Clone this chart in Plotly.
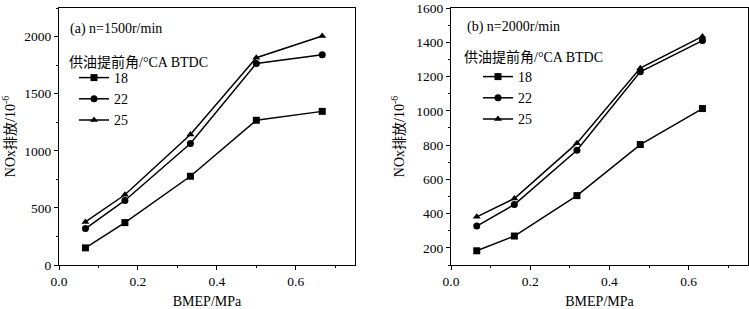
import plotly.graph_objects as go

# Panel (a) n=1500 r/min
xa = [0.067, 0.167, 0.333, 0.500, 0.667]
a18 = [150, 371, 777, 1267, 1345]
a22 = [319, 565, 1063, 1765, 1840]
a25 = [377, 615, 1142, 1815, 2005]

# Panel (b) n=2000 r/min
xb = [0.065, 0.160, 0.318, 0.478, 0.635]
b18 = [183, 269, 505, 803, 1013]
b22 = [327, 453, 770, 1228, 1410]
b25 = [381, 488, 811, 1249, 1434]

series_names = ["18", "22", "25"]
symbols = ["square", "circle", "triangle-up"]
legend_title = "供油提前角/°CA BTDC"

FONT = "Liberation Serif, Times New Roman, Noto Sans CJK SC, serif"
FS = 14
TFS = 13.5

fig = go.Figure()
for name, sym, ya in zip(series_names, symbols, [a18, a22, a25]):
    fig.add_trace(go.Scatter(x=xa, y=ya, name=name, mode="lines+markers",
                             line=dict(color="black", width=1.5),
                             marker=dict(symbol=sym, size=7, color="black"),
                             xaxis="x", yaxis="y", legend="legend"))
for name, sym, yb in zip(series_names, symbols, [b18, b22, b25]):
    fig.add_trace(go.Scatter(x=xb, y=yb, name=name, mode="lines+markers",
                             line=dict(color="black", width=1.5),
                             marker=dict(symbol=sym, size=7, color="black"),
                             xaxis="x2", yaxis="y2", legend="legend2"))

W, H = 749, 309
def px_x(p): return p / W
def px_y(p): return (H - p) / H

axis_common = dict(showline=True, linecolor="black", linewidth=1, mirror=True,
                   ticks="outside", ticklen=4, tickcolor="black", showgrid=False,
                   zeroline=False, automargin=False,
                   tickfont=dict(family=FONT, size=TFS, color="black"))

fig.update_layout(
    width=W, height=H, margin=dict(l=0, r=0, t=0, b=0),
    paper_bgcolor="white", plot_bgcolor="white",
    font=dict(family=FONT, color="black", size=FS),
    xaxis=dict(domain=[px_x(59), px_x(355)], range=[0, 0.75], dtick=0.2, tickformat=".1f",
               minor=dict(dtick=0.1, ticks="outside", ticklen=2, tickcolor="black"),
               title=dict(text="BMEP/MPa", font=dict(family=FONT, size=FS), standoff=14),
               anchor="y", **axis_common),
    yaxis=dict(domain=[px_y(265), px_y(8)], range=[0, 2250], dtick=500,
               minor=dict(dtick=250, ticks="outside", ticklen=2, tickcolor="black"),
               title=dict(text="NOx排放/10<sup>-6</sup>", font=dict(family=FONT, size=FS), standoff=7),
               anchor="x", **axis_common),
    xaxis2=dict(domain=[px_x(451), px_x(748)], range=[0, 0.75], dtick=0.2, tickformat=".1f",
                minor=dict(dtick=0.1, ticks="outside", ticklen=2, tickcolor="black"),
                title=dict(text="BMEP/MPa", font=dict(family=FONT, size=FS), standoff=14),
                anchor="y2", **axis_common),
    yaxis2=dict(domain=[px_y(265), px_y(8)], range=[100, 1600], dtick=200,
                minor=dict(dtick=100, ticks="outside", ticklen=2, tickcolor="black"),
                title=dict(text="NOx排放/10<sup>-6</sup>", font=dict(family=FONT, size=FS), standoff=8),
                anchor="x2", **axis_common),
    legend=dict(x=px_x(74), y=px_y(62), xanchor="left", yanchor="top",
                bgcolor="rgba(0,0,0,0)", tracegroupgap=0,
                font=dict(family=FONT, size=FS)),
    legend2=dict(x=px_x(478), y=px_y(61), xanchor="left", yanchor="top",
                 bgcolor="rgba(0,0,0,0)", tracegroupgap=0,
                 font=dict(family=FONT, size=FS)),
    annotations=[
        dict(text="(a) n=1500r/min", x=px_x(68), y=px_y(29), xref="paper", yref="paper",
             xanchor="left", yanchor="middle", showarrow=False, font=dict(family=FONT, size=FS)),
        dict(text="(b) n=2000r/min", x=px_x(465), y=px_y(27), xref="paper", yref="paper",
             xanchor="left", yanchor="middle", showarrow=False, font=dict(family=FONT, size=FS)),
        dict(text=legend_title, x=px_x(67), y=px_y(62), xref="paper", yref="paper",
             xanchor="left", yanchor="middle", showarrow=False, font=dict(family=FONT, size=FS)),
        dict(text=legend_title, x=px_x(462), y=px_y(57), xref="paper", yref="paper",
             xanchor="left", yanchor="middle", showarrow=False, font=dict(family=FONT, size=FS)),
    ],
)

fig.write_html("out.html", config={"displayModeBar": False},
               post_script="document.body.style.margin='0';document.body.style.overflow='hidden';")
